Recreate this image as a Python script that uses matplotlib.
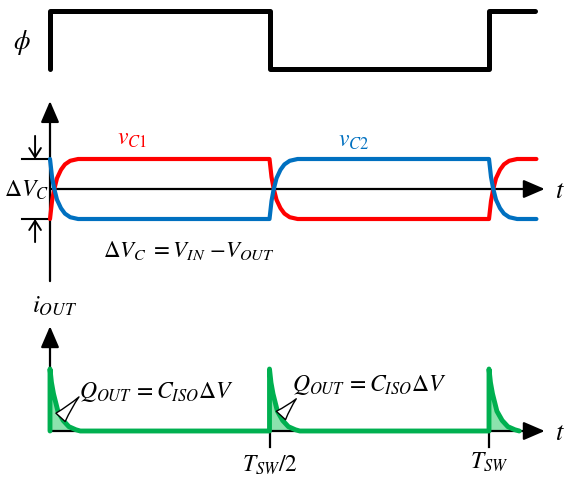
import numpy as np
import matplotlib
matplotlib.use("Agg")
import matplotlib.pyplot as plt

plt.rcParams['mathtext.fontset'] = 'stix'
plt.rcParams['font.family'] = ['DejaVu Sans']

# time in units of T_SW
edges = [0.0, 0.5, 1.0]
t_end = 1.108

# switching signal phi (step waveform)
phi_t = [0.0, 0.0, 0.5, 0.5, 1.0, 1.0, 1.105]
phi_v = [0, 1, 1, 0, 0, 1, 1]

# capacitor voltage transition shape (dt, fraction done)
trans_dt = [0.0, 0.0046, 0.0091, 0.016, 0.025, 0.034, 0.046, 0.064]
trans_frac = [0.0, 0.30, 0.48, 0.68, 0.82, 0.91, 0.97, 1.0]
vc1_levels = [-1, 1, -1, 1]   # level before first edge, then after each edge
vc2_levels = [1, -1, 1, -1]

# output current spike shape (dt, fraction of peak)
spike_dt = [0.0, 0.0034, 0.008, 0.018, 0.030, 0.043, 0.059, 0.069]
spike_frac = [1.0, 0.78, 0.60, 0.32, 0.17, 0.07, 0.02, 0.0]


def build_vc(levels):
    ts, vs = [], []
    for k, e in enumerate(edges):
        a, b = levels[k], levels[k + 1]
        for dt, f in zip(trans_dt, trans_frac):
            ts.append(e + dt)
            vs.append(a + (b - a) * f)
    ts.append(t_end)
    vs.append(levels[-1])
    return np.array(ts), np.array(vs)


def build_iout():
    ts, vs = [], []
    for e in edges:
        ts.append(e)
        vs.append(0.0)
        for dt, f in zip(spike_dt, spike_frac):
            ts.append(e + dt)
            vs.append(f)
    return np.array(ts), np.array(vs)


W, H = 568, 481
fig = plt.figure(figsize=(W / 100, H / 100), dpi=100)

x0 = 50.0
px_per_t = 439.0
xlim = (-x0 / px_per_t, (W - x0) / px_per_t)


def make_ax(top, bottom, y_zero, px_per_unit):
    ax = fig.add_axes([0, 1 - bottom / H, 1, (bottom - top) / H])
    ax.set_xlim(*xlim)
    ax.set_ylim((y_zero - bottom) / px_per_unit, (y_zero - top) / px_per_unit)
    ax.axis('off')
    return ax


def arrow(ax, start, tip, style='-|>,head_length=0.65,head_width=0.28', ms=20, lw=1.6):
    ax.annotate('', xy=tip, xytext=start,
                arrowprops=dict(arrowstyle=style, color='black', lw=lw,
                                shrinkA=0, shrinkB=0, mutation_scale=ms))


# ---- top: phi ----
ax1 = make_ax(0, 90, 70, 58)
ax1.plot(phi_t, phi_v, color='black', lw=3.6, solid_capstyle='round',
         solid_joinstyle='round')
ax1.text(-0.064, 0.48, r'$\phi$', fontsize=19, ha='center', va='center')

# ---- middle: capacitor voltages ----
ax2 = make_ax(90, 290, 190, 30)
arrow(ax2, (0, -3.07), (0, 2.93))
arrow(ax2, (0, 0), (1.127, 0))
ax2.plot([-0.064, 0], [1, 1], color='black', lw=1.5)
ax2.plot([-0.064, 0], [-1, -1], color='black', lw=1.5)
arrow(ax2, (-0.034, 1.77), (-0.034, 1.0), style='->,head_length=0.55,head_width=0.35', ms=12, lw=1.4)
arrow(ax2, (-0.034, -1.77), (-0.034, -1.0), style='->,head_length=0.55,head_width=0.35', ms=12, lw=1.4)

t1, v1 = build_vc(vc1_levels)
t2, v2 = build_vc(vc2_levels)
ax2.plot(t1, v1, color='#ff0000', lw=3, solid_capstyle='round', zorder=3)
ax2.plot(t2, v2, color='#0070c0', lw=3, solid_capstyle='round', zorder=4)

ax2.text(0.152, 1.5, r'$v_{C1}$', color='#ff0000', fontsize=17, ha='left', va='baseline')
ax2.text(0.656, 1.43, r'$v_{C2}$', color='#0070c0', fontsize=17, ha='left', va='baseline')
ax2.text(-0.105, -0.23, r'$\Delta V_C$', fontsize=17, ha='left', va='baseline')
ax2.text(0.121, -2.23, r'$\Delta V_C\ {=}V_{IN}\ {-}V_{OUT}$', fontsize=16.5, ha='left', va='baseline')
ax2.text(1.150, -0.27, r'$t$', fontsize=19, ha='left', va='baseline')

# ---- bottom: output current ----
ax3 = make_ax(290, 481, 432, 62)
ti, vi = build_iout()
ax3.fill_between(ti, 0, vi, color='#8be3ad', lw=0, zorder=1)
arrow(ax3, (0, 0), (0, 1.69))
arrow(ax3, (0, 0), (1.127, 0))
for e in edges[1:]:
    ax3.plot([e, e], [0, -0.26], color='black', lw=1.6)
ax3.plot(ti, vi, color='#00b050', lw=3.5, solid_capstyle='round',
         solid_joinstyle='round', zorder=3)

for (tw, vw), (tn, vn) in [((0.024, 0.22), (0.066, 0.55)),
                           ((0.526, 0.25), (0.561, 0.52))]:
    ax3.annotate('', xy=(tn, vn), xytext=(tw, vw),
                 arrowprops=dict(arrowstyle='wedge,tail_width=0.45,shrink_factor=0.4',
                                 fc='white', ec='black', lw=1.0,
                                 shrinkA=0, shrinkB=0, mutation_scale=20), zorder=4)

ax3.text(-0.041, 1.92, r'$i_{OUT}$', fontsize=18, ha='left', va='baseline')
ax3.text(0.066, 0.55, r'$Q_{OUT}\,{=}C_{ISO}\Delta V$', fontsize=17, ha='left', va='baseline')
ax3.text(0.551, 0.66, r'$Q_{OUT}\,{=}C_{ISO}\Delta V$', fontsize=17, ha='left', va='baseline')
ax3.text(0.5, -0.645, r'$T_{SW}/2$', fontsize=17, ha='center', va='baseline')
ax3.text(1.0, -0.60, r'$T_{SW}$', fontsize=17, ha='center', va='baseline')
ax3.text(1.150, -0.13, r'$t$', fontsize=19, ha='left', va='baseline')

fig.savefig('out.png', dpi=100)
